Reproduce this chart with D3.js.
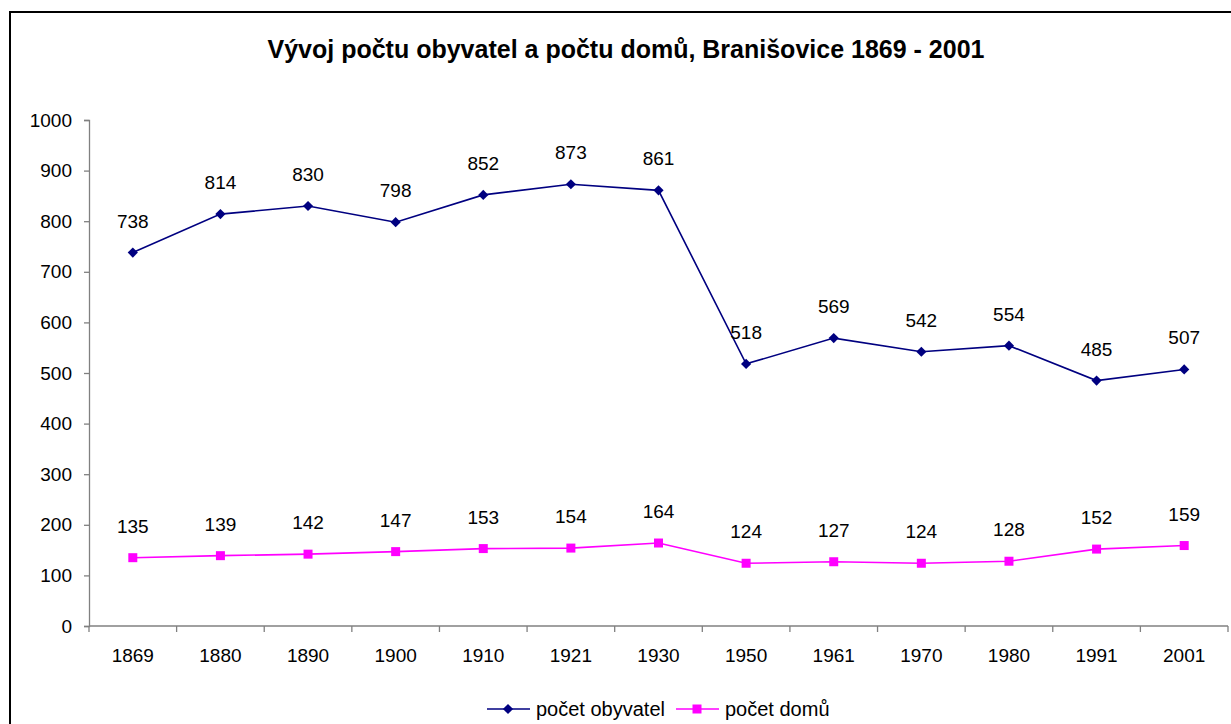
<!DOCTYPE html>
<html>
<head>
<meta charset="utf-8">
<script src="https://cdn.jsdelivr.net/npm/d3@7"></script>
<style>
  body { margin: 0; background: #fff; }
  svg { display: block; font-family: Arial, "Liberation Sans", sans-serif; }
</style>
</head>
<body>
<svg id="chart" width="1231" height="724"></svg>
<script>
const years = ["1869", "1880", "1890", "1900", "1910", "1921", "1930", "1950", "1961", "1970", "1980", "1991", "2001"];
const obyvatel = [738, 814, 830, 798, 852, 873, 861, 518, 569, 542, 554, 485, 507];
const domy = [135, 139, 142, 147, 153, 154, 164, 124, 127, 124, 128, 152, 159];
const yTicks = [0, 100, 200, 300, 400, 500, 600, 700, 800, 900, 1000];

const svg = d3.select("#chart");

// outer chart frame (runs past the window on right and bottom)
svg.append("rect")
    .attr("x", 10).attr("y", 12)
    .attr("width", 1240).attr("height", 740)
    .attr("fill", "none")
    .attr("stroke", "#000")
    .attr("stroke-width", 2);

svg.append("text")
    .attr("x", 626).attr("y", 58)
    .attr("text-anchor", "middle")
    .style("font-size", "25px")
    .style("font-weight", "bold")
    .text("Vývoj počtu obyvatel a počtu domů, Branišovice 1869 - 2001");

const plotLeft = 89, plotRight = 1228, plotTop = 120, plotBottom = 626;

const x = d3.scaleBand().domain(years).range([plotLeft, plotRight]);
const y = d3.scaleLinear().domain([0, 1000]).range([plotBottom, plotTop]);

const yAxis = svg.append("g")
    .attr("transform", `translate(${plotLeft},0)`)
    .call(d3.axisLeft(y).tickValues(yTicks).tickFormat(d3.format("d")).tickSize(5).tickPadding(12));
yAxis.select(".domain").attr("stroke", "#808080").attr("stroke-width", 1.3);
yAxis.selectAll(".tick line").attr("stroke", "#808080").attr("stroke-width", 1.3);
yAxis.selectAll("text").style("font-size", "19px").attr("fill", "#000");

// x axis with ticks on category boundaries
const xg = svg.append("g").attr("transform", `translate(0,${plotBottom})`);
xg.append("line")
    .attr("x1", plotLeft).attr("x2", plotRight)
    .attr("stroke", "#808080").attr("stroke-width", 1.3);
xg.selectAll("line.tk")
    .data(years.concat(["end"]))
    .enter().append("line")
    .attr("class", "tk")
    .attr("x1", (d, i) => plotLeft + i * x.step())
    .attr("x2", (d, i) => plotLeft + i * x.step())
    .attr("y1", 0).attr("y2", 6)
    .attr("stroke", "#808080").attr("stroke-width", 1.3);
xg.selectAll("text")
    .data(years)
    .enter().append("text")
    .attr("x", d => x(d) + x.bandwidth() / 2)
    .attr("y", 36)
    .attr("text-anchor", "middle")
    .style("font-size", "19px")
    .text(d => d);

const cx = (d, i) => x(years[i]) + x.bandwidth() / 2;
const line = d3.line().x((d, i) => cx(d, i)).y(d => y(d));

// markers: diamond = rotated square
function marker(sel, kind, color) {
    sel.attr("d", d3.symbol().type(d3.symbolSquare).size(kind === "diamond" ? 52 : 81))
        .attr("fill", color);
}

function drawSeries(values, color, kind) {
    svg.append("path")
        .datum(values)
        .attr("d", line)
        .attr("fill", "none")
        .attr("stroke", color)
        .attr("stroke-width", 1.6);
    svg.selectAll(null)
        .data(values)
        .enter().append("path")
        .call(marker, kind, color)
        .attr("transform", (d, i) => `translate(${cx(d, i)},${y(d)})` + (kind === "diamond" ? " rotate(45)" : ""));
    svg.selectAll(null)
        .data(values)
        .enter().append("text")
        .attr("x", (d, i) => cx(d, i))
        .attr("y", d => y(d) - 25)
        .attr("text-anchor", "middle")
        .style("font-size", "19px")
        .text(d => d);
}

drawSeries(obyvatel, "#000080", "diamond");
drawSeries(domy, "#FF00FF", "square");

// legend
const legend = [
    { name: "počet obyvatel", color: "#000080", kind: "diamond", x0: 487 },
    { name: "počet domů", color: "#FF00FF", kind: "square", x0: 676 }
];
const lg = svg.append("g").attr("transform", "translate(0,709)");
legend.forEach(l => {
    lg.append("line")
        .attr("x1", l.x0).attr("x2", l.x0 + 43)
        .attr("stroke", l.color).attr("stroke-width", 1.6);
    lg.append("path")
        .call(marker, l.kind, l.color)
        .attr("transform", `translate(${l.x0 + 21},0)` + (l.kind === "diamond" ? " rotate(45)" : ""));
    lg.append("text")
        .attr("x", l.x0 + 49).attr("y", 7)
        .style("font-size", "20px")
        .text(l.name);
});
</script>
</body>
</html>
